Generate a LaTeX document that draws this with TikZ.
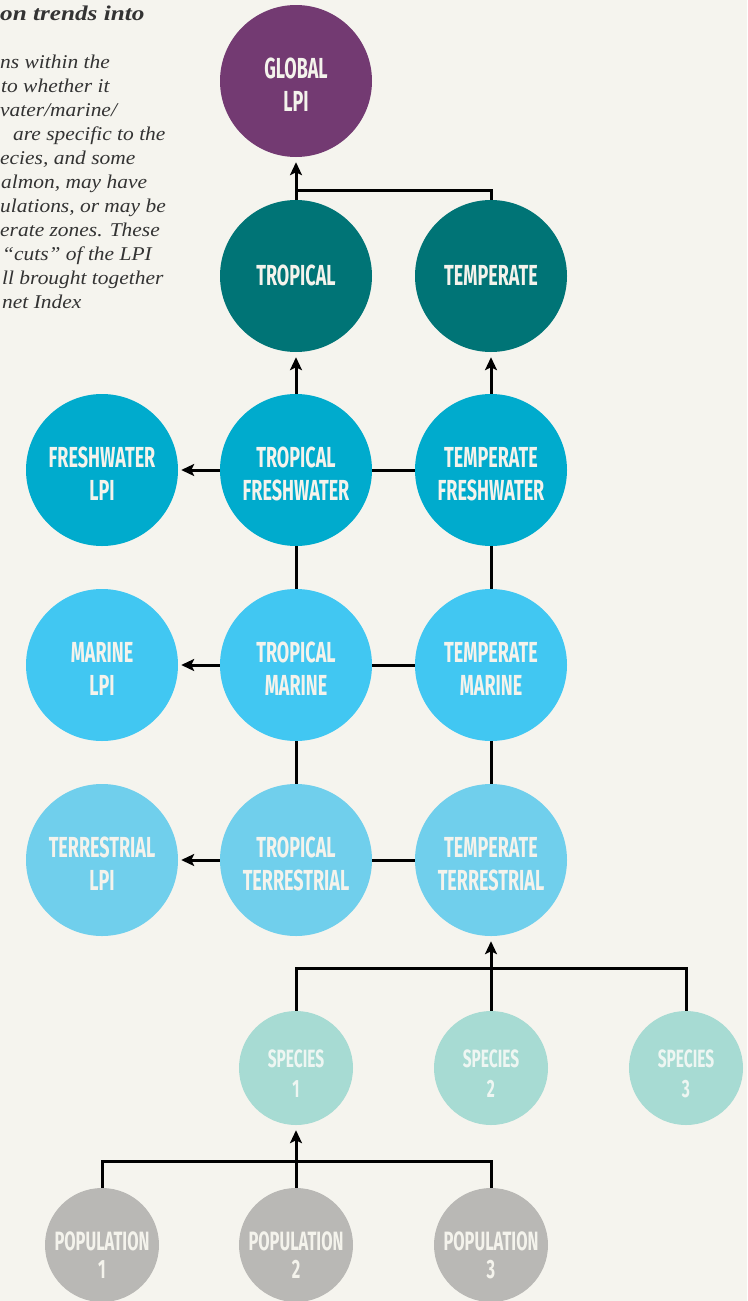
\documentclass[tikz,border=0pt]{standalone}
\usepackage{fontspec}
\usetikzlibrary{arrows.meta}
\newfontfamily\labfont[FakeStretch=0.62]{Fira Sans}
\newfontfamily\capfont[FakeStretch=1.1]{Liberation Serif}
\newfontfamily\capbfont[FakeStretch=1.2]{Liberation Serif}
\definecolor{bg}{HTML}{F5F4EE}
\definecolor{cglob}{HTML}{733A72}
\definecolor{cteal}{HTML}{007476}
\definecolor{cfw}{HTML}{00ABCD}
\definecolor{cmar}{HTML}{41C7F2}
\definecolor{cter}{HTML}{70CFEC}
\definecolor{cspe}{HTML}{A7DBD3}
\definecolor{cpop}{HTML}{B9B8B5}
\definecolor{lbl}{HTML}{F4F3EC}
\definecolor{slbl}{HTML}{EEF6F2}
\definecolor{captxt}{HTML}{333333}
% a text line centred horizontally, its baseline raised by #2
\newcommand\labline[2]{\raisebox{#2}[0pt][0pt]{\makebox[0pt]{#1}}}
\newcommand\bigtwo[2]{\labline{#1}{3pt}\labline{#2}{-30pt}}
\newcommand\bigone[1]{\labline{#1}{-9pt}}
\newcommand\spetwo[2]{\labline{#1}{0.5pt}\labline{#2}{-29.5pt}}
\newcommand\poptwo[2]{\labline{#1}{-5pt}\labline{#2}{-33pt}}
\begin{document}
\begin{tikzpicture}[x=1pt,y=-1pt,
  big/.style={circle, minimum size=152pt, inner sep=0pt, text=lbl,
    font=\labfont\bfseries\fontsize{29}{33}\selectfont},
  small/.style={circle, minimum size=114pt, inner sep=0pt, text=slbl,
    font=\labfont\bfseries\fontsize{25}{30}\selectfont},
  popc/.style={small, fill=cpop, text=lbl, font=\labfont\bfseries\fontsize{26.5}{30}\selectfont},
  conn/.style={line width=3pt, draw=black},
  arr/.style={conn, -{Stealth[length=13pt,width=12pt,inset=3pt]}, shorten >=5pt},
  captext/.style={anchor=base west, inner sep=0pt, text=captxt,
    font=\capfont\itshape\fontsize{19.5}{24}\selectfont}
]
\fill[bg] (0,0) rectangle (747,1301);
\useasboundingbox (0,0) rectangle (747,1301);

% caption text (cut off at left edge)
\node[captext, font=\capbfont\bfseries\itshape\fontsize{21}{24}\selectfont] (t0) at (0,20) {on trends into};
\node[captext] (t1) at (0,68) {ns within the};
\node[captext] (t2) at (1,92) {to whether it};
\node[captext] (t3) at (0,116) {vater/marine/};
\node[captext] (t4) at (13,140) {are specific to the};
\node[captext] (t5) at (0,164) {ecies, and some};
\node[captext] (t6) at (1,188) {almon, may have};
\node[captext] (t7) at (0,212) {ulations, or may be};
\node[captext] (t8) at (0,236) {erate zones. These};
\node[captext] (t9) at (2,260) {“cuts” of the LPI};
\node[captext] (t10) at (2,284) {ll brought together};
\node[captext] (t11) at (2,308) {net Index};

% main circles
\node[big, fill=cglob] (glob) at (296,81) {\bigtwo{GLOBAL}{LPI}};
\node[big, fill=cteal] (trop) at (296,276) {\bigone{TROPICAL}};
\node[big, fill=cteal] (temp) at (491,276) {\bigone{TEMPERATE}};

\node[big, fill=cfw] (fw) at (102,470) {\bigtwo{FRESHWATER}{LPI}};
\node[big, fill=cfw] (tfw) at (296,470) {\bigtwo{TROPICAL}{FRESHWATER}};
\node[big, fill=cfw] (efw) at (491,470) {\bigtwo{TEMPERATE}{FRESHWATER}};

\node[big, fill=cmar] (mar) at (102,665) {\bigtwo{MARINE}{LPI}};
\node[big, fill=cmar] (tmar) at (296,665) {\bigtwo{TROPICAL}{MARINE}};
\node[big, fill=cmar] (emar) at (491,665) {\bigtwo{TEMPERATE}{MARINE}};

\node[big, fill=cter] (ter) at (102,860) {\bigtwo{TERRESTRIAL}{LPI}};
\node[big, fill=cter] (tter) at (296,860) {\bigtwo{TROPICAL}{TERRESTRIAL}};
\node[big, fill=cter] (eter) at (491,860) {\bigtwo{TEMPERATE}{TERRESTRIAL}};

\node[small, fill=cspe] (s1) at (296,1068) {\spetwo{SPECIES}{1}};
\node[small, fill=cspe] (s2) at (491,1068) {\spetwo{SPECIES}{2}};
\node[small, fill=cspe] (s3) at (686,1068) {\spetwo{SPECIES}{3}};

\node[popc] (p1) at (102,1245) {\poptwo{POPULATION}{1}};
\node[popc] (p2) at (296,1245) {\poptwo{POPULATION}{2}};
\node[popc] (p3) at (491,1245) {\poptwo{POPULATION}{3}};

% junctions
\coordinate (j1) at (296,190);
\coordinate (j2) at (491,968);
\coordinate (j3) at (296,1161);

% connectors
\draw[arr] (trop) -- (glob);
\draw[conn] (temp.north) |- (j1);

\draw[arr] (tfw) -- (trop);
\draw[arr] (efw) -- (temp);
\draw[conn] (tmar) -- (tfw);
\draw[conn] (emar) -- (efw);
\draw[conn] (tter) -- (tmar);
\draw[conn] (eter) -- (emar);

\draw[conn] (efw) -- (tfw);
\draw[arr, shorten >=3pt] (tfw) -- (fw);
\draw[conn] (emar) -- (tmar);
\draw[arr, shorten >=3pt] (tmar) -- (mar);
\draw[conn] (eter) -- (tter);
\draw[arr, shorten >=3pt] (tter) -- (ter);

\draw[conn] (s1.north) |- (j2) -| (s3.north);
\draw[arr] (s2) -- (eter);

\draw[conn] (p1.north) |- (j3) -| (p3.north);
\draw[arr] (p2) -- (s1);
\end{tikzpicture}
\end{document}
